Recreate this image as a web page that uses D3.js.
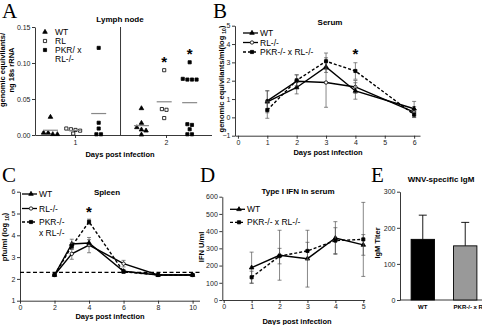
<!DOCTYPE html>
<html>
<head>
<meta charset="utf-8">
<script src="https://cdn.jsdelivr.net/npm/d3@7"></script>
<style>
  body { margin: 0; background: #fff; }
  svg { display: block; font-family: Arial, "Liberation Sans", sans-serif; }
  .tick text { font-size: 7px; fill: #222; }
  .ttl { font-weight: bold; font-size: 8px; }
  .lab { font-weight: bold; font-size: 7.5px; }
  .leg { font-size: 8.5px; }
  .letter { font-family: "Liberation Serif", "DejaVu Serif", serif; font-size: 21px; }
</style>
</head>
<body>
<svg id="fig" width="482" height="325"></svg>
<script>
// ---- panel A : lymph node, scatter per day and genotype
const lymphDays = [1, 2];
const lymphGroups = ["WT", "RL", "PKR/ x RL-/-"];
const lymphWT = [[0.025, 0.003, 0.001, 0.001, 0.003], [0.037, 0.0166, 0.0106, 0.0074, 0.006, 0.0005]];
const lymphRL = [[0.009, 0.008, 0.007, 0.006, 0.002], [0.090, 0.036, 0.035, 0.0235]];
const lymphPKR = [[0.121, 0.017, 0.009, 0.001, 0.001], [0.101, 0.077, 0.077, 0.078, 0.077, 0.015, 0.014, 0.008, 0.001, 0.001]];
const lymphTicks = [0, 0.05, 0.10, 0.15];

// ---- panel B : serum
const serumDays = [1, 2, 3, 4, 6];
const serumWT = [0.85, 1.63, 2.75, 1.44, 0.47];
const serumWTErr = [0.6, 0.35, 0.3, 0.45, 0.4];
const serumRL = [0.9, 1.97, 1.9, 1.66, 0.29];
const serumRLErr = [0.55, 0.35, 1.35, 0.35, 0.3];
const serumPKR = [0.4, 2.02, 3.06, 2.53, 0.15];
const serumPKRErr = [0.45, 0.3, 0.45, 0.45, 0.15];

// ---- panel C : spleen
const spleenDays = [2, 3, 4, 6, 8, 10];
const spleenWT = [2.18, 3.6, 3.65, 2.35, 2.18, 2.18];
const spleenWTErr = [0.03, 0.22, 0.15, 0.08, 0.03, 0.03];
const spleenRL = [2.18, 3.15, 3.55, 2.7, 2.18, 2.18];
const spleenRLErr = [0.03, 0.25, 0.35, 0.15, 0.03, 0.03];
const spleenPKR = [2.18, 3.5, 4.62, 2.33, 2.18, 2.18];
const spleenPKRErr = [0.03, 0.15, 0.12, 0.05, 0.03, 0.03];
const spleenLimit = 2.3;

// ---- panel D : type I IFN
const ifnDays = [1, 2, 3, 4, 5];
const ifnWT = [188, 260, 240, 360, 320];
const ifnWTErr = [90, 145, 165, 95, 60];
const ifnPKR = [132, 255, 285, 345, 352];
const ifnPKRErr = [35, 45, 50, 75, 215];

// ---- panel E : IgM
const igmGroups = ["WT", "PKR-/- x RL-/-"];
const igmMean = [168, 150];
const igmErr = [67, 65];
const igmColors = ["#000", "#999"];

const svg = d3.select("#fig");

const letter = (t, x, y) => svg.append("text").attr("class", "letter").attr("x", x).attr("y", y).text(t);

// shared marker shapes
const sym = {
  tri: d3.symbol().type(d3.symbolTriangle).size(9),
  sq: d3.symbol().type(d3.symbolSquare).size(10),
  circ: d3.symbol().type(d3.symbolCircle).size(9)
};

const styleAxis = g => {
  g.select(".domain").attr("stroke", "#222").attr("stroke-width", 0.9);
  g.selectAll(".tick line").attr("stroke", "#222").attr("stroke-width", 0.9);
};

const drawAxes = (x, y, xTicks, yTicks, yFmt) => {
  svg.append("g")
    .attr("transform", `translate(0,${y.range()[0]})`)
    .call(d3.axisBottom(x).tickValues(xTicks).tickSize(3).tickSizeOuter(0).tickPadding(1.5).tickFormat(d3.format("d")))
    .call(styleAxis);
  svg.append("g")
    .attr("transform", `translate(${x.range()[0]},0)`)
    .call(d3.axisLeft(y).tickValues(yTicks).tickSize(3).tickSizeOuter(0).tickPadding(1.5).tickFormat(yFmt || d3.format("d")))
    .call(styleAxis);
};

const yLabel = (lines, x, y) => {
  const t = svg.append("text").attr("class", "lab")
    .attr("transform", `translate(${x},${y}) rotate(-90)`)
    .attr("text-anchor", "middle");
  lines.forEach((l, i) => t.append("tspan").attr("x", 0).attr("dy", i === 0 ? 0 : "1.2em").text(l));
  return t;
};

const star = (x, y) => svg.append("text").attr("x", x).attr("y", y)
  .attr("text-anchor", "middle").attr("font-size", 15).attr("font-weight", "bold").text("*");

// line + error bar series
const drawSeries = (x, y, days, vals, errs, s) => {
  const g = svg.append("g");
  g.selectAll("line.err")
    .data(days)
    .join("g")
    .each(function (d, i) {
      const e = d3.select(this);
      const cx = x(d);
      const lo = y(vals[i] - errs[i]), hi = y(vals[i] + errs[i]);
      e.append("line").attr("x1", cx).attr("x2", cx).attr("y1", lo).attr("y2", hi);
      e.append("line").attr("x1", cx - 2).attr("x2", cx + 2).attr("y1", lo).attr("y2", lo);
      e.append("line").attr("x1", cx - 2).attr("x2", cx + 2).attr("y1", hi).attr("y2", hi);
    })
    .attr("stroke", "#555").attr("stroke-width", 0.7);
  g.append("path")
    .datum(days.map((d, i) => [x(d), y(vals[i])]))
    .attr("d", d3.line())
    .attr("fill", "none").attr("stroke", "#000").attr("stroke-width", 1.4)
    .attr("stroke-dasharray", s.dash ? "3,2" : null);
  g.selectAll("path.m")
    .data(days)
    .join("path")
    .attr("class", "m")
    .attr("transform", (d, i) => `translate(${x(d)},${y(vals[i])})`)
    .attr("d", sym[s.shape]())
    .attr("fill", s.open ? "#fff" : "#000").attr("stroke", "#000").attr("stroke-width", 0.8);
};

// legend rows at explicit y positions
const drawLegend = (x0, ys, items) => {
  items.forEach((it, i) => {
    const yy = ys[i];
    if (it.shape) {
      svg.append("line").attr("x1", x0).attr("x2", x0 + 15).attr("y1", yy).attr("y2", yy)
        .attr("stroke", "#000").attr("stroke-width", 1.3).attr("stroke-dasharray", it.dash ? "3,2" : null);
      svg.append("path").attr("transform", `translate(${x0 + 9},${yy})`).attr("d", sym[it.shape]())
        .attr("fill", it.open ? "#fff" : "#000").attr("stroke", "#000").attr("stroke-width", 0.8);
    }
    svg.append("text").attr("class", "leg").attr("x", x0 + 17).attr("y", yy + 3).text(it.name);
  });
};

// ================= A
{
  const x = d3.scaleLinear().domain([0.56, 2.5]).range([35, 211.5]);
  const y = d3.scaleLinear().domain([0, 0.15]).range([135, 27]);
  const offs = [-0.27, -0.02, 0.26];
  const shapes = [{ shape: "tri" }, { shape: "sq", open: true }, { shape: "sq" }];
  const sets = [lymphWT, lymphRL, lymphPKR];

  svg.append("g")
    .attr("transform", `translate(0,${y.range()[0]})`)
    .call(d3.axisBottom(x).tickValues(lymphDays).tickSize(3).tickSizeOuter(0).tickPadding(2).tickFormat(d3.format("d")))
    .call(styleAxis);
  svg.append("g")
    .attr("transform", `translate(${x.range()[0]},0)`)
    .call(d3.axisLeft(y).tickValues(lymphTicks).tickSize(3).tickSizeOuter(0).tickPadding(1.5).tickFormat(d3.format(".2f")))
    .call(styleAxis);
  // divider between days
  svg.append("line").attr("x1", x(1.5)).attr("x2", x(1.5)).attr("y1", y(0.15)).attr("y2", y(0)).attr("stroke", "#222").attr("stroke-width", 0.9);

  sets.forEach((set, gi) => {
    set.forEach((vals, di) => {
      const cx = x(lymphDays[di] + offs[gi]);
      // spread overlapping points sideways
      const sorted = vals.slice().sort((a, b) => b - a);
      const clusters = [];
      sorted.forEach(v => {
        const last = clusters[clusters.length - 1];
        if (last && Math.abs(y(last[0]) - y(v)) < 4) last.push(v); else clusters.push([v]);
      });
      const pts = [];
      clusters.forEach(c => c.forEach((v, k) => pts.push([cx + (k - (c.length - 1) / 2) * 4.6, y(v)])));
      svg.append("g").selectAll("path")
        .data(pts)
        .join("path")
        .attr("transform", d => `translate(${d[0]},${d[1]})`)
        .attr("d", sym[shapes[gi].shape]())
        .attr("fill", shapes[gi].open ? "#fff" : "#000").attr("stroke", "#000").attr("stroke-width", 0.8);
      const m = d3.mean(vals);
      svg.append("line").attr("x1", cx - 7.5).attr("x2", cx + 7.5).attr("y1", y(m)).attr("y2", y(m))
        .attr("stroke", "#888").attr("stroke-width", 1.2);
    });
  });
  star(x(2 + offs[1]), y(d3.max(lymphRL[1])) - 3);
  star(x(2 + offs[2]), y(d3.max(lymphPKR[1])) - 3);

  // legend
  lymphGroups.forEach((gname, i) => {
    svg.append("path").attr("transform", `translate(45,${32 + i * 9})`).attr("d", sym[shapes[i].shape]())
      .attr("fill", shapes[i].open ? "#fff" : "#000").attr("stroke", "#000").attr("stroke-width", 0.8);
  });
  drawLegend(38, [32, 41, 50, 59], [{ name: "WT" }, { name: "RL" }, { name: "PKR/ x" }, { name: "RL-/-" }]);

  svg.append("text").attr("class", "ttl").attr("x", 120).attr("y", 22).attr("text-anchor", "middle").text("Lymph node");
  svg.append("text").attr("class", "lab").attr("x", 120).attr("y", 157).attr("text-anchor", "middle").text("Days post infection");
  yLabel(["genomic equivilants/", "ng 18s rRNA"], 5, 70);
  letter("A", 2, 18);
}

// ================= B
{
  const x = d3.scaleLinear().domain([-0.1, 6.2]).range([235, 420]);
  const y = d3.scaleLinear().domain([-1, 5]).range([135.7, 25.7]);
  drawAxes(x, y, [0, 1, 2, 3, 4, 5, 6], [-1, 0, 1, 2, 3, 4, 5]);
  drawSeries(x, y, serumDays, serumRL, serumRLErr, { shape: "circ", open: true });
  drawSeries(x, y, serumDays, serumWT, serumWTErr, { shape: "tri" });
  drawSeries(x, y, serumDays, serumPKR, serumPKRErr, { shape: "sq", dash: true });
  star(x(4), 59);
  drawLegend(243, [33, 42.5, 52], [
    { name: "WT", shape: "tri" },
    { name: "RL-/-", shape: "circ", open: true },
    { name: "PKR-/- x RL-/-", shape: "sq", dash: true }
  ]);
  svg.append("text").attr("class", "ttl").attr("x", 330).attr("y", 25).attr("text-anchor", "middle").text("Serum");
  svg.append("text").attr("class", "lab").attr("x", 328).attr("y", 155).attr("text-anchor", "middle").text("Days post infection");
  const t = yLabel(["genomic equivilants/ml(log "], 224, 79);
  t.select("tspan").append("tspan").attr("font-size", 5).attr("dy", 1.5).text("10");
  t.append("tspan").attr("dy", -1.5).text(")");
  letter("B", 213, 18);
}

// ================= C
{
  const x = d3.scaleLinear().domain([0, 10.4]).range([20, 199.5]);
  const y = d3.scaleLinear().domain([1, 6]).range([300.7, 191.7]);
  drawAxes(x, y, [0, 2, 4, 6, 8, 10], [1, 2, 3, 4, 5, 6]);
  svg.append("line").attr("x1", x(0)).attr("x2", x(10.4)).attr("y1", y(spleenLimit)).attr("y2", y(spleenLimit))
    .attr("stroke", "#000").attr("stroke-width", 1.2).attr("stroke-dasharray", "4,2.5");
  drawSeries(x, y, spleenDays, spleenRL, spleenRLErr, { shape: "circ", open: true });
  drawSeries(x, y, spleenDays, spleenWT, spleenWTErr, { shape: "tri" });
  drawSeries(x, y, spleenDays, spleenPKR, spleenPKRErr, { shape: "sq", dash: true });
  star(x(4), 217);
  drawLegend(22, [194, 208.5, 222, 233], [
    { name: "WT", shape: "tri" },
    { name: "RL-/-", shape: "circ", open: true },
    { name: "PKR-/-", shape: "sq", dash: true },
    { name: "x RL-/-" }
  ]);
  svg.append("text").attr("class", "ttl").attr("x", 107).attr("y", 195).attr("text-anchor", "middle").text("Spleen");
  svg.append("text").attr("class", "lab").attr("x", 110).attr("y", 319).attr("text-anchor", "middle").text("Days post infection");
  const t = yLabel(["pfu/ml (log "], 7, 237);
  t.select("tspan").append("tspan").attr("font-size", 5).attr("dy", 1.5).text("10");
  t.append("tspan").attr("dy", -1.5).text(")");
  letter("C", 2, 182);
}

// ================= D
{
  const x = d3.scaleLinear().domain([-0.05, 5.05]).range([222.3, 364.7]);
  const y = d3.scaleLinear().domain([0, 600]).range([300, 196.7]);
  drawAxes(x, y, [0, 1, 2, 3, 4, 5], [0, 100, 200, 300, 400, 500, 600]);
  drawSeries(x, y, ifnDays, ifnWT, ifnWTErr, { shape: "tri" });
  drawSeries(x, y, ifnDays, ifnPKR, ifnPKRErr, { shape: "sq", dash: true });
  drawLegend(230, [209.3, 222.3], [
    { name: "WT", shape: "tri" },
    { name: "PKR-/- x RL-/-", shape: "sq", dash: true }
  ]);
  svg.append("text").attr("class", "ttl").attr("x", 298).attr("y", 194).attr("text-anchor", "middle").text("Type I IFN in serum");
  svg.append("text").attr("class", "lab").attr("x", 297).attr("y", 324).attr("text-anchor", "middle").text("Days post infection");
  yLabel(["IFN U/ml"], 204, 247);
  letter("D", 200, 182);
}

// ================= E
{
  const x = d3.scaleBand().domain(igmGroups).range([406, 482]).paddingInner(0.45).paddingOuter(0.12);
  const y = d3.scaleLinear().domain([0, 300]).range([300, 191.7]);
  svg.append("g")
    .attr("transform", `translate(400,0)`)
    .call(d3.axisLeft(y).tickValues([0, 100, 200, 300]).tickSize(3).tickSizeOuter(0).tickPadding(1.5))
    .call(styleAxis);
  svg.append("line").attr("x1", 400).attr("x2", 482).attr("y1", y(0)).attr("y2", y(0)).attr("stroke", "#222").attr("stroke-width", 0.9);
  // error whiskers (upper only)
  svg.append("g").selectAll("g")
    .data(igmGroups)
    .join("g")
    .each(function (d, i) {
      const cx = x(d) + x.bandwidth() / 2;
      const g = d3.select(this);
      g.append("line").attr("x1", cx).attr("x2", cx).attr("y1", y(igmMean[i])).attr("y2", y(igmMean[i] + igmErr[i]));
      g.append("line").attr("x1", cx - 4).attr("x2", cx + 4).attr("y1", y(igmMean[i] + igmErr[i])).attr("y2", y(igmMean[i] + igmErr[i]));
    })
    .attr("stroke", "#000").attr("stroke-width", 0.9);
  svg.append("g").selectAll("rect")
    .data(igmGroups)
    .join("rect")
    .attr("x", d => x(d))
    .attr("y", (d, i) => y(igmMean[i]))
    .attr("width", x.bandwidth())
    .attr("height", (d, i) => y(0) - y(igmMean[i]))
    .attr("fill", (d, i) => igmColors[i])
    .attr("stroke", "#000").attr("stroke-width", 0.9);
  svg.append("g").selectAll("text")
    .data(igmGroups)
    .join("text")
    .attr("font-weight", "bold")
    .attr("font-size", 6)
    .attr("x", (d, i) => i === 0 ? x(d) + x.bandwidth() / 2 : x(d))
    .attr("y", 309)
    .attr("text-anchor", (d, i) => i === 0 ? "middle" : "start")
    .text(d => d);
  svg.append("text").attr("class", "ttl").attr("font-size", 7).attr("x", 441).attr("y", 182).attr("text-anchor", "middle").text("WNV-specific IgM");
  yLabel(["IgM Titer"], 380, 243);
  letter("E", 371, 182);
}
</script>
</body>
</html>
